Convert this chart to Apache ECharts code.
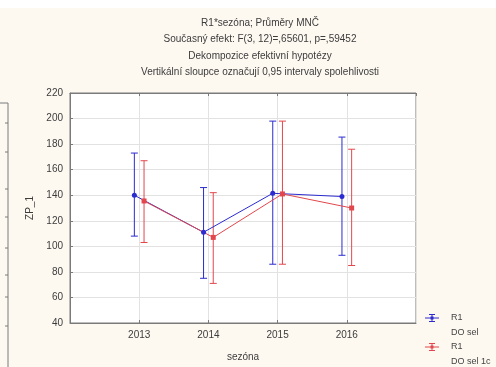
<!DOCTYPE html>
<html>
<head>
<meta charset="utf-8">
<script src="https://cdn.jsdelivr.net/npm/echarts@6/dist/echarts.min.js"></script>
<style>html,body{margin:0;padding:0;background:#fff;}#c{width:496px;height:367px;}</style>
</head>
<body>
<div id="c"></div>
<script>
// ---- data ----
const years = [2013, 2014, 2015, 2016];
const blueMean = [140, 111, 141.5, 139];
const blueLow  = [108, 75, 86, 93];
const blueHigh = [173, 146, 198, 185.5];
const redMean  = [135.5, 107, 141, 130];
const redLow   = [103, 71, 86, 85];
const redHigh  = [167, 142, 198, 176];
const titleLines = [
  'R1*sezóna; Průměry MNČ',
  'Současný efekt: F(3, 12)=,65601, p=,59452',
  'Dekompozice efektivní hypotézy',
  'Vertikální sloupce označují 0,95 intervaly spolehlivosti'
];
const legendItems = [['R1', 'DO sel'], ['R1', 'DO sel 1c']];
const xName = 'sezóna';
const yName = 'ZP_1';

const BLUE = '#2b2bd0', RED = '#e2474d';
const dodge = 0.07;
const FONT = '"Liberation Sans", Arial, sans-serif';

// error bars as broken line segments: [x,low],[x,high],'-' ...
function errData(shift, low, high) {
  const out = [];
  years.forEach(function (y, i) {
    out.push([y + shift, low[i]]);
    out.push([y + shift, high[i]]);
    out.push('-');
  });
  return out;
}
function errSeries(name, col, shift, low, high) {
  return {type: 'line', name: name, silent: true, data: errData(shift, low, high),
    connectNulls: false, showSymbol: true, showAllSymbol: true,
    symbol: 'rect', symbolSize: [7, 1], color: col,
    itemStyle: {color: col}, lineStyle: {width: 1, color: col}, z: 3, emphasis: {disabled: true}};
}

const graphics = [
  {type: 'rect', shape: {x: 0, y: 0, width: 496, height: 8}, style: {fill: '#ffffff'}, silent: true},
  {type: 'polyline', shape: {points: [[0, 103], [8, 103], [8, 367]]}, style: {stroke: '#7a7a7a', lineWidth: 1, fill: null}}
];
[123, 152, 189, 217, 248, 275, 297, 326].forEach(function (y) {
  graphics.push({type: 'line', shape: {x1: 5, y1: y, x2: 8, y2: y}, style: {stroke: '#7a7a7a', lineWidth: 1}});
});
titleLines.forEach(function (t, i) {
  graphics.push({type: 'text', x: 260, y: 23 + i * 16.5,
    style: {text: t, font: '10px ' + FONT, fill: '#3c3c3c', align: 'center', verticalAlign: 'middle', textAlign: 'center', textVerticalAlign: 'middle'}});
});
// legend
[[BLUE, 318], [RED, 347]].forEach(function (p, i) {
  const c = p[0], y = p[1];
  graphics.push({type: 'line', shape: {x1: 425, y1: y, x2: 439, y2: y}, style: {stroke: c, lineWidth: 1}});
  graphics.push({type: 'line', shape: {x1: 429, y1: y - 3.5, x2: 435, y2: y - 3.5}, style: {stroke: c, lineWidth: 1}});
  graphics.push({type: 'line', shape: {x1: 429, y1: y + 3.5, x2: 435, y2: y + 3.5}, style: {stroke: c, lineWidth: 1}});
  graphics.push({type: 'line', shape: {x1: 432, y1: y - 3.5, x2: 432, y2: y + 3.5}, style: {stroke: c, lineWidth: 1}});
  graphics.push({type: 'rect', shape: {x: 430.5, y: y - 1.5, width: 3, height: 3}, style: {fill: c}});
  graphics.push({type: 'text', x: 451, y: y, style: {text: legendItems[i][0], font: '9px ' + FONT, fill: '#444', verticalAlign: 'middle', textVerticalAlign: 'middle'}});
  graphics.push({type: 'text', x: 451, y: y + 15, style: {text: legendItems[i][1], font: '9px ' + FONT, fill: '#444', verticalAlign: 'middle', textVerticalAlign: 'middle'}});
});

const axisLab = {color: '#3c3c3c', fontSize: 10, fontFamily: FONT};
const chart = echarts.init(document.getElementById('c'), null, {renderer: 'canvas'});
chart.setOption({
  backgroundColor: '#fdf9f1',
  animation: false,
  grid: {left: 70, top: 93, right: 80, bottom: 40, show: true, backgroundColor: '#ffffff', borderColor: '#7a7a7a', borderWidth: 1},
  xAxis: [{
    type: 'value', min: 2012, max: 2017, interval: 1, position: 'bottom',
    name: xName, nameLocation: 'middle', nameGap: 29, nameTextStyle: axisLab,
    axisLine: {lineStyle: {color: '#7a7a7a'}},
    axisTick: {inside: true, length: 3, lineStyle: {color: '#7a7a7a'}},
    axisLabel: Object.assign({margin: 7, showMinLabel: false, showMaxLabel: false,
      formatter: function (v) { return years.indexOf(v) >= 0 ? String(v) : ''; }}, axisLab),
    splitLine: {show: true, lineStyle: {color: '#e2e2e2'}}
  }, {
    type: 'value', min: 2012, max: 2017, interval: 1, position: 'top',
    axisLine: {lineStyle: {color: '#7a7a7a'}},
    axisTick: {inside: true, length: 3, lineStyle: {color: '#7a7a7a'}},
    axisLabel: {show: false}, splitLine: {show: false}
  }],
  yAxis: {
    type: 'value', min: 40, max: 220, interval: 20,
    name: yName, nameLocation: 'middle', nameGap: 33, nameRotate: 90, nameTextStyle: axisLab,
    axisLine: {show: true, lineStyle: {color: '#7a7a7a'}},
    axisTick: {show: true, inside: true, length: 3, lineStyle: {color: '#7a7a7a'}},
    axisLabel: Object.assign({margin: 7}, axisLab),
    splitLine: {show: true, lineStyle: {color: '#e2e2e2'}}
  },
  graphic: graphics,
  series: [
    errSeries('blueErr', BLUE, -dodge, blueLow, blueHigh),
    errSeries('redErr', RED, dodge, redLow, redHigh),
    {type: 'line', name: 'blue', silent: true, data: years.map(function (y, i) { return [y - dodge, blueMean[i]]; }),
      symbol: 'circle', symbolSize: 5, color: BLUE, lineStyle: {width: 1, color: BLUE}, itemStyle: {color: BLUE}, z: 4},
    {type: 'line', name: 'red', silent: true, data: years.map(function (y, i) { return [y + dodge, redMean[i]]; }),
      symbol: 'rect', symbolSize: 5, color: RED, lineStyle: {width: 1, color: RED}, itemStyle: {color: RED}, z: 4}
  ]
});
</script>
</body>
</html>
